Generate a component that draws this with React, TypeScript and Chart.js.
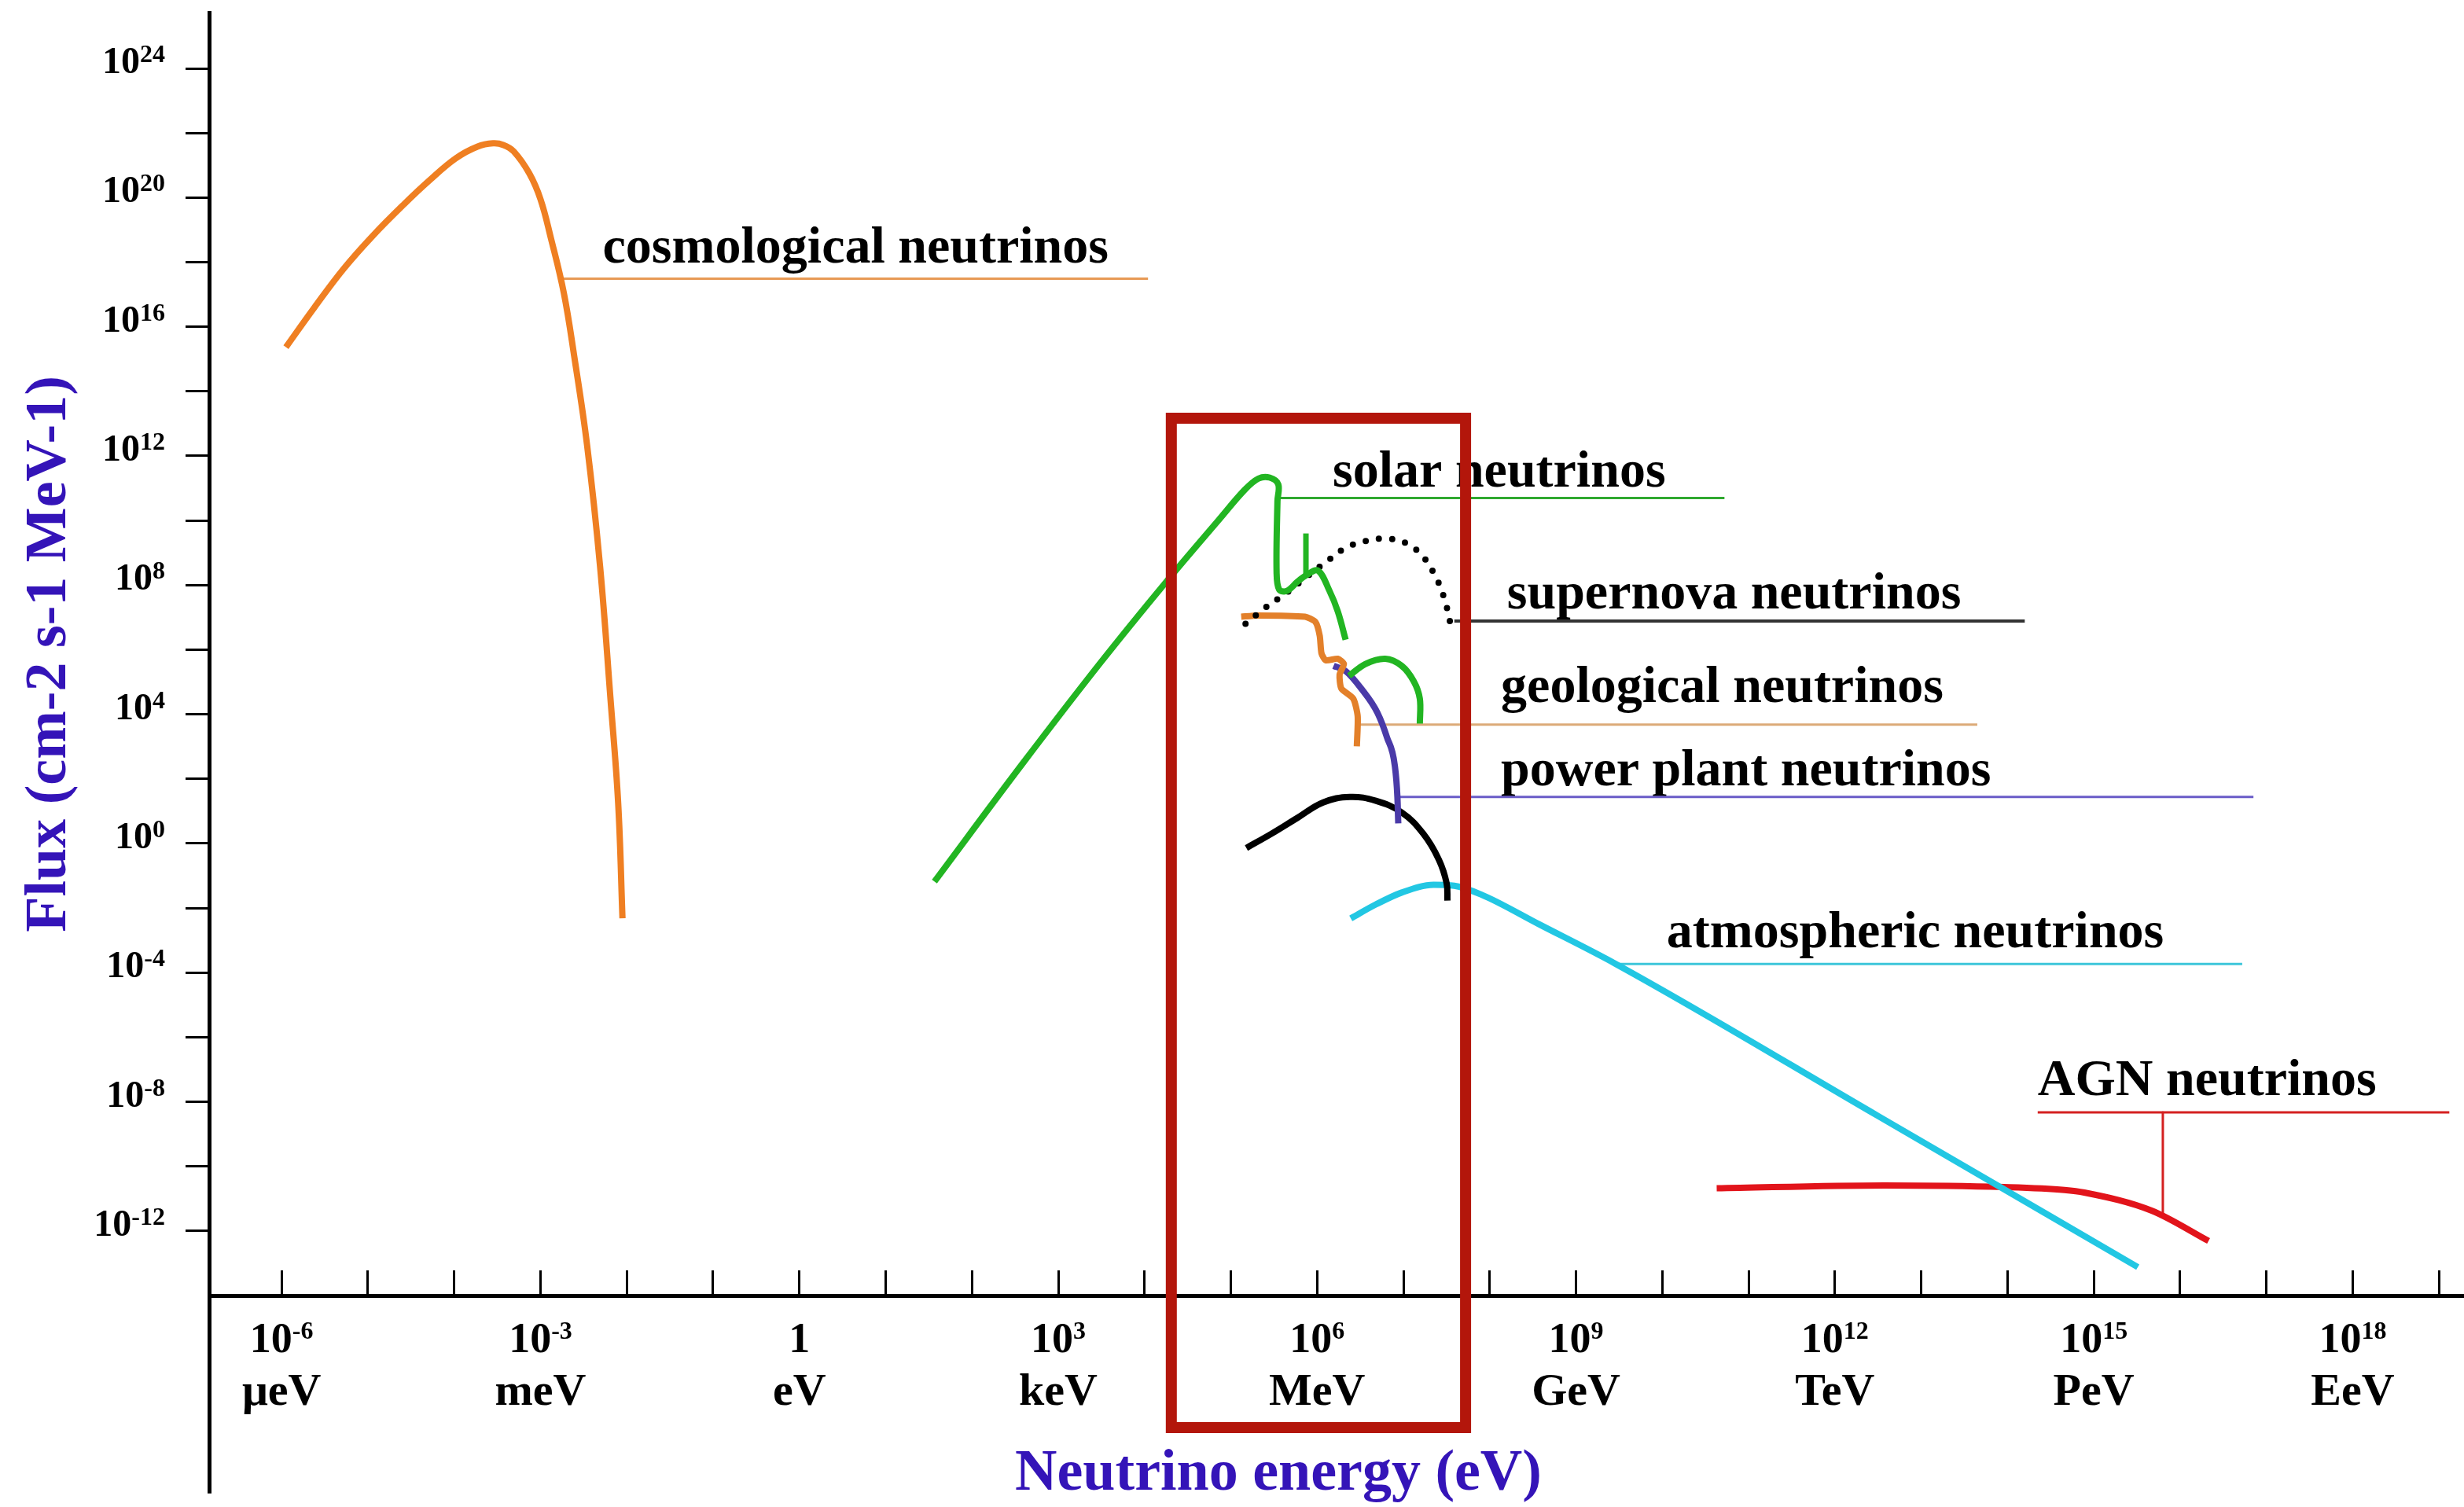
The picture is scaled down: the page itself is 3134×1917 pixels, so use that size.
import React, { useEffect, useRef } from 'react';
import { Chart, registerables } from 'chart.js';

Chart.register(...registerables);

// ---- Data (log10 units): x = log10(E / eV), y = log10(flux / cm^-2 s^-1 MeV^-1) ----
const cosmoLogE = [-5.95, -5.62, -5.28, -4.95, -4.58, -4.28, -3.98, -3.73, -3.55, -3.43, -3.31, -3.13, -3.00, -2.88, -2.73, -2.61, -2.46, -2.31, -2.19, -2.10, -2.05];
const cosmoLogFlux = [15.37, 16.60, 17.80, 18.80, 19.80, 20.55, 21.22, 21.58, 21.68, 21.63, 21.43, 20.75, 19.95, 18.75, 17.05, 15.10, 12.33, 8.59, 4.51, 1.25, -2.32];

const solarLogE = [1.565, 2.58, 3.49, 4.25, 4.86, 5.16, 5.32, 5.45, 5.55, 5.54, 5.53, 5.56, 5.65, 5.77, 5.87, 6.01, 6.14, 6.24, 6.33];
const solarLogFlux = [-1.18, 2.45, 5.60, 8.10, 10.02, 10.95, 11.30, 11.33, 11.12, 10.60, 8.40, 7.86, 7.82, 8.10, 8.30, 8.45, 7.84, 7.18, 6.31];
const solarLineLogE = [5.87, 5.87];
const solarLineLogFlux = [8.27, 9.6];
const solarBumpLogE = [6.37, 6.56, 6.79, 6.98, 7.12, 7.19, 7.19];
const solarBumpLogFlux = [5.19, 5.56, 5.72, 5.50, 5.02, 4.48, 3.71];

const supernovaLogE = [5.17, 5.40, 5.63, 5.86, 6.10, 6.33, 6.56, 6.79, 7.03, 7.21, 7.35, 7.47, 7.54];
const supernovaLogFlux = [6.80, 7.30, 7.73, 8.22, 8.71, 9.15, 9.36, 9.44, 9.30, 8.93, 8.38, 7.62, 6.86];

const geoLogE = [5.12, 5.31, 5.86, 5.98, 6.03, 6.05, 6.10, 6.24, 6.31, 6.26, 6.28, 6.42, 6.47, 6.46];
const geoLogFlux = [7.02, 7.06, 7.02, 6.86, 6.43, 5.89, 5.67, 5.72, 5.56, 5.23, 4.80, 4.48, 3.93, 3.01];

const powerLogE = [6.19, 6.33, 6.51, 6.70, 6.81, 6.90, 6.93, 6.94];
const powerLogFlux = [5.50, 5.34, 4.80, 4.04, 3.28, 2.41, 1.44, 0.62];

const blackArcLogE = [5.18, 5.47, 5.77, 6.07, 6.38, 6.68, 6.98, 7.23, 7.41, 7.50, 7.51];
const blackArcLogFlux = [-0.14, 0.30, 0.79, 1.27, 1.44, 1.32, 0.96, 0.30, -0.50, -1.23, -1.77];

const atmosLogE = [6.39, 6.68, 6.98, 7.35, 7.59, 7.90, 8.57, 9.46, 12.50, 15.51];
const atmosLogFlux = [-2.32, -1.89, -1.52, -1.28, -1.31, -1.58, -2.50, -3.73, -8.44, -13.12];

const agnLogE = [10.63, 12.57, 13.96, 14.66, 14.89, 15.67, 16.33];
const agnLogFlux = [-10.68, -10.59, -10.64, -10.73, -10.81, -11.37, -12.31];

// ---- Labels and leader lines (data units) ----
const seriesNames = ['cosmological neutrinos', 'solar neutrinos', 'supernova neutrinos', 'geological neutrinos', 'power plant neutrinos', 'atmospheric neutrinos', 'AGN neutrinos'];
const nameLogE = [-2.28, 6.18, 8.20, 8.13, 8.13, 10.05, 14.35];
const nameLogFlux = [18.0, 11.04, 7.28, 4.38, 1.81, -3.22, -7.79];
const leaderStartLogE = [-2.77, 5.54, 7.59, 6.46, 6.95, 9.46, 14.35];
const leaderEndLogE = [4.04, 10.72, 14.20, 13.65, 16.85, 16.72, 19.12];
const leaderLogFlux = [17.49, 10.70, 6.89, 3.68, 1.44, -3.73, -8.33];
const agnStemLogE = [15.80, 15.80];
const agnStemLogFlux = [-8.33, -11.52];

// highlight box
const boxLogE = [4.31, 7.72, 7.72, 4.31, 4.31, 7.72];
const boxLogFlux = [13.17, 13.17, -18.09, -18.09, 13.17, 13.17];

// ---- Axes ----
const xTickExps = [-6, -5, -4, -3, -2, -1, 0, 1, 2, 3, 4, 5, 6, 7, 8, 9, 10, 11, 12, 13, 14, 15, 16, 17, 18, 19];
const xLabelExps = [-6, -3, 0, 3, 6, 9, 12, 15, 18];
const xUnitLabels = ['μeV', 'meV', 'eV', 'keV', 'MeV', 'GeV', 'TeV', 'PeV', 'EeV'];
const yTickExps = [-12, -10, -8, -6, -4, -2, 0, 2, 4, 6, 8, 10, 12, 14, 16, 18, 20, 22, 24];
const yLabelExps = [24, 20, 16, 12, 8, 4, 0, -4, -8, -12];
const X_MIN = -6.84;
const X_MAX = 19.29;
const Y_MIN = -14;
const Y_MAX = 25.73;
const Y_AXIS_EXT = -20.13;

const FONT = '"Liberation Serif", "Times New Roman", serif';
const TITLE_COLOR = '#3414B8';

const leaderColors = ['#E79A55', '#2FA82F', '#333333', '#DCAA78', '#6A5CC8', '#3EC6DA', '#D42020'];
const leaderWidths = [3, 3, 4, 3, 3, 3, 3];

function pts(xs: number[], ys: number[]) {
  return xs.map((v, i) => ({ x: v, y: ys[i] }));
}

function lineDs(label: string, xs: number[], ys: number[], color: string, width: number, extra: any = {}) {
  return {
    label,
    data: pts(xs, ys),
    showLine: true,
    borderColor: color,
    backgroundColor: color,
    borderWidth: width,
    pointRadius: 0,
    pointHoverRadius: 0,
    tension: 0.3,
    fill: false,
    borderCapStyle: 'butt',
    borderJoinStyle: 'round',
    ...extra,
  };
}

const MONO = { cubicInterpolationMode: 'monotone' };

function drawPow(ctx: CanvasRenderingContext2D, cx: number, baseline: number, exp: number, baseSize: number, supSize: number, raise: number, align: string, plainOne: boolean) {
  const baseText = plainOne && exp === 0 ? '1' : '10';
  const supText = plainOne && exp === 0 ? '' : String(exp);
  ctx.font = `bold ${baseSize}px ${FONT}`;
  const wb = ctx.measureText(baseText).width;
  ctx.font = `bold ${supSize}px ${FONT}`;
  const ws = supText ? ctx.measureText(supText).width : 0;
  const total = wb + ws;
  const left = align === 'right' ? cx - total : cx - total / 2;
  ctx.textAlign = 'left';
  ctx.textBaseline = 'alphabetic';
  ctx.font = `bold ${baseSize}px ${FONT}`;
  ctx.fillText(baseText, left, baseline);
  if (supText) {
    ctx.font = `bold ${supSize}px ${FONT}`;
    ctx.fillText(supText, left + wb, baseline - raise);
  }
}

const textPlugin = {
  id: 'neutrinoText',
  beforeDatasetsDraw(chart: any) {
    const { ctx, chartArea, scales } = chart;
    const xs = scales.x;
    const ys = scales.y;
    ctx.save();
    // y axis continues below the x axis
    ctx.strokeStyle = '#000';
    ctx.lineWidth = 5;
    ctx.beginPath();
    ctx.moveTo(chartArea.left + 0.5, chartArea.bottom);
    ctx.lineTo(chartArea.left + 0.5, ys.getPixelForValue(Y_AXIS_EXT));
    ctx.stroke();

    ctx.fillStyle = '#000';
    // y tick labels
    yLabelExps.forEach((e) => {
      drawPow(ctx, chartArea.left - 56, ys.getPixelForValue(e) + 6, e, 48, 32, 14, 'right', false);
    });
    // x tick labels
    xLabelExps.forEach((e, i) => {
      const px = xs.getPixelForValue(e);
      drawPow(ctx, px, chartArea.bottom + 72, e, 54, 32, 17, 'center', true);
      ctx.font = `bold 58px ${FONT}`;
      ctx.textAlign = 'center';
      ctx.fillText(xUnitLabels[i], px, chartArea.bottom + 139);
    });
    // series names
    ctx.font = `bold 66px ${FONT}`;
    ctx.textAlign = 'left';
    ctx.textBaseline = 'alphabetic';
    seriesNames.forEach((name, i) => {
      ctx.fillText(name, xs.getPixelForValue(nameLogE[i]), ys.getPixelForValue(nameLogFlux[i]));
    });
    ctx.restore();
  },
};

export default function App() {
  const canvasRef = useRef<HTMLCanvasElement>(null);

  useEffect(() => {
    const canvas = canvasRef.current;
    if (!canvas) return;

    const datasets: any[] = [
      lineDs('highlight', boxLogE, boxLogFlux, '#B3160B', 14, { tension: 0, clip: false, borderJoinStyle: 'miter' }),
      lineDs('cosmological neutrinos', cosmoLogE, cosmoLogFlux, '#EF7F22', 8, { tension: 0.4 }),
      lineDs('solar neutrinos', solarLogE, solarLogFlux, '#22B522', 8, { tension: 0.35 }),
      lineDs('solar line', solarLineLogE, solarLineLogFlux, '#22B522', 7, { tension: 0 }),
      lineDs('solar high-energy', solarBumpLogE, solarBumpLogFlux, '#22B522', 8, { tension: 0.35 }),
      lineDs('supernova neutrinos', supernovaLogE, supernovaLogFlux, '#000000', 8, { tension: 0.4, borderDash: [0, 17], borderCapStyle: 'round' }),
      lineDs('geological neutrinos', geoLogE, geoLogFlux, '#E3802A', 8, { tension: 0.2 }),
      lineDs('power plant neutrinos', powerLogE, powerLogFlux, '#4A3AA8', 8, MONO),
      lineDs('black arc', blackArcLogE, blackArcLogFlux, '#000000', 8, { tension: 0.4 }),
      lineDs('atmospheric neutrinos', atmosLogE, atmosLogFlux, '#22C7E3', 8, MONO),
      lineDs('AGN neutrinos', agnLogE, agnLogFlux, '#E2141B', 8, MONO),
    ];
    seriesNames.forEach((name, i) => {
      datasets.push(
        lineDs(name + ' leader', [leaderStartLogE[i], leaderEndLogE[i]], [leaderLogFlux[i], leaderLogFlux[i]], leaderColors[i], leaderWidths[i], { tension: 0 })
      );
    });
    datasets.push(lineDs('AGN leader stem', agnStemLogE, agnStemLogFlux, leaderColors[6], 3, { tension: 0 }));

    const chart = new Chart(canvas, {
      type: 'scatter',
      data: { datasets },
      options: {
        responsive: false,
        animation: false,
        devicePixelRatio: 1,
        layout: { padding: { top: 16, left: 0, right: 0, bottom: 0 } },
        plugins: {
          legend: { display: false },
          tooltip: { enabled: false },
        },
        events: [],
        scales: {
          x: {
            type: 'linear',
            position: 'bottom',
            min: X_MIN,
            max: X_MAX,
            afterBuildTicks: (s: any) => {
              s.ticks = xTickExps.map((v) => ({ value: v }));
            },
            afterFit: (s: any) => {
              s.height = 269;
            },
            ticks: { display: false, autoSkip: false },
            grid: { display: true, drawOnChartArea: false, drawTicks: true, tickLength: -32, tickWidth: 3, tickColor: '#000' },
            border: { display: true, color: '#000', width: 5 },
            title: {
              display: true,
              text: 'Neutrino energy (eV)\u2003\u2003',
              color: TITLE_COLOR,
              font: { family: FONT, size: 74, weight: 'bold', lineHeight: 1 },
              padding: { top: 0, bottom: 4 },
            },
          },
          y: {
            type: 'linear',
            position: 'left',
            min: Y_MIN,
            max: Y_MAX,
            afterBuildTicks: (s: any) => {
              s.ticks = yTickExps.map((v) => ({ value: v }));
            },
            afterFit: (s: any) => {
              s.width = 266;
            },
            ticks: { display: false, autoSkip: false },
            grid: { display: true, drawOnChartArea: false, drawTicks: true, tickLength: 30, tickWidth: 3, tickColor: '#000' },
            border: { display: true, color: '#000', width: 5 },
            title: {
              display: true,
              text: 'Flux (cm-2 s-1 MeV-1)',
              color: TITLE_COLOR,
              font: { family: FONT, size: 74, weight: 'bold', lineHeight: 1 },
              padding: { top: 27, bottom: 0 },
            },
          },
        },
      } as any,
      plugins: [textPlugin as any],
    });

    return () => {
      chart.destroy();
    };
  }, []);

  return (
    <div style={{ position: 'fixed', left: 0, top: 0, width: 3134, height: 1917, background: '#fff' }}>
      <canvas ref={canvasRef} width={3134} height={1917} style={{ display: 'block', width: 3134, height: 1917 }} />
    </div>
  );
}
